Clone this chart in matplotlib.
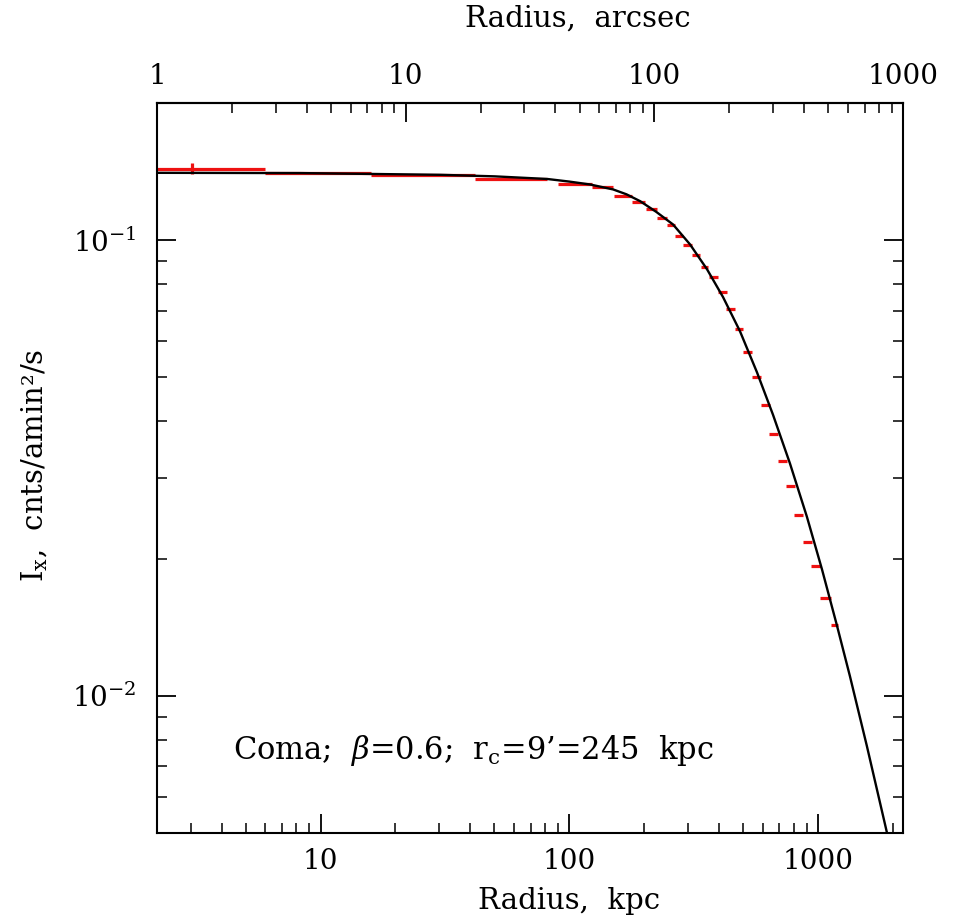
import numpy as np
import matplotlib
matplotlib.use('Agg')
import matplotlib.pyplot as plt
from matplotlib.ticker import LogLocator, NullFormatter, FixedLocator, FixedFormatter

plt.rcParams['font.family'] = ['DejaVu Serif']
plt.rcParams['mathtext.fontset'] = 'dejavuserif'

# data bins (kpc) and surface brightness
r_lo = [0.5, 6.0, 15.9, 41.9, 90.3, 123.7, 151.6, 179.1, 203.9, 225.6, 247.5, 266.6,
        287.0, 311.9, 338.9, 364.9, 396.6, 427.1, 464.2, 499.7, 543.2, 590.3, 635.7,
        690.9, 743.7, 801.1, 870.5, 937.3, 1018.6, 1127.6]
r_hi = [6.0, 15.9, 41.9, 81.6, 123.7, 150.2, 179.1, 202.0, 225.6, 247.5, 266.6, 287.0,
        311.9, 335.9, 361.6, 396.6, 431.1, 464.2, 499.7, 543.2, 590.3, 641.6, 690.9,
        750.6, 808.6, 870.5, 946.0, 1028.0, 1127.6, 1203.0]
r_mid = [3.03, 11.07, 25.8, 58.5, 105.7, 136.3, 164.8, 190.2, 214.5, 236.3, 256.9, 276.6,
         299.2, 323.7, 350.1, 380.4, 413.5, 445.2, 481.6, 521.0, 566.3, 615.4, 664.2,
         720.2, 775.8, 835.1, 907.4, 981.6, 1071.7, 1164.7]
sb = [0.1436, 0.1401, 0.1393, 0.1363, 0.1331, 0.1305, 0.1247, 0.1212, 0.1168, 0.1121,
      0.1077, 0.1020, 0.0977, 0.0927, 0.0874, 0.0831, 0.0769, 0.0705, 0.0639, 0.0569,
      0.0502, 0.0434, 0.0376, 0.0328, 0.0289, 0.0250, 0.0218, 0.0193, 0.0164, 0.0143]
sb_err = [0.004, 0.0007] + [0.0] * 28

# beta-model curve, points
model_r = [2.0, 8.31, 30.3, 50.1, 81.6, 100.0, 121.4, 150.2, 170.0, 192.8, 223.9, 261.6,
           306.1, 358.3, 415.5, 486.1, 568.9, 659.7, 772.0, 903.2, 1038.0, 1192.0,
           1345.0, 1573.0, 1858.0, 2000.0]
model_sb = [0.14053, 0.14034, 0.13912, 0.13804, 0.13622, 0.13444, 0.13248, 0.12920,
            0.12605, 0.12177, 0.11535, 0.10823, 0.09786, 0.08630, 0.07499, 0.06310,
            0.05128, 0.04140, 0.03236, 0.02472, 0.01897, 0.01429, 0.01105, 0.00777,
            0.00525, 0.00441]

KPC_PER_ARCSEC = 2.2

fig = plt.figure(figsize=(9.61, 9.21), dpi=100)
ax = fig.add_axes([0.1634, 0.0955, 0.7763, 0.7927])

xerr = [np.array(r_mid) - np.array(r_lo), np.array(r_hi) - np.array(r_mid)]
ax.errorbar(r_mid, sb, xerr=xerr, yerr=sb_err, fmt='none', ecolor='#ee1111',
            elinewidth=2.3, capsize=0, zorder=2)
ax.plot(model_r, model_sb, color='black', lw=1.7, zorder=3)

ax.set_xscale('log')
ax.set_yscale('log')
ax.set_xlim(2.2, 2200)
ax.set_ylim(0.005, 0.2)

for s in ax.spines.values():
    s.set_linewidth(1.5)

ax.xaxis.set_major_locator(FixedLocator([10, 100, 1000]))
ax.xaxis.set_major_formatter(FixedFormatter(['10', '100', '1000']))
ax.xaxis.set_minor_locator(LogLocator(base=10, subs=np.arange(2, 10)))
ax.xaxis.set_minor_formatter(NullFormatter())
ax.yaxis.set_minor_formatter(NullFormatter())
ax.tick_params(which='major', direction='in', length=14, width=1.3, labelsize=20,
               left=True, right=True, top=False, bottom=True)
ax.tick_params(axis='x', which='major', pad=11)
ax.tick_params(axis='y', which='major', pad=15)
ax.tick_params(which='minor', direction='in', length=7.5, width=1.1,
               left=True, right=True, top=False, bottom=True)

top = ax.secondary_xaxis('top', functions=(lambda x: x / KPC_PER_ARCSEC,
                                           lambda x: x * KPC_PER_ARCSEC))
top.xaxis.set_major_locator(FixedLocator([1, 10, 100, 1000]))
top.xaxis.set_major_formatter(FixedFormatter(['1', '10', '100', '1000']))
top.xaxis.set_minor_locator(LogLocator(base=10, subs=np.arange(2, 10)))
top.xaxis.set_minor_formatter(NullFormatter())
top.tick_params(which='major', direction='in', length=14, width=1.3, labelsize=20, pad=9)
top.tick_params(which='minor', direction='in', length=7.5, width=1.1)
top.spines['top'].set_linewidth(1.5)
top.set_xlabel('Radius,  arcsec', fontsize=21)
top.xaxis.set_label_coords(0.564, 1.115, transform=ax.transAxes)
top.xaxis.label.set_va('center')

ax.set_xlabel('Radius,  kpc', fontsize=21)
ax.xaxis.set_label_coords(0.552, -0.093)
ax.xaxis.label.set_va('center')
ax.set_ylabel('I$_{\\rm x}$,  cnts/amin²/s', fontsize=21)
ax.yaxis.set_label_coords(-0.1635, 0.503)
ax.yaxis.label.set_va('center')

ax.text(0.102, 0.113, 'Coma;  $\\beta$=0.6;  r$_{\\rm c}$=9\u2019=245  kpc',
        transform=ax.transAxes, fontsize=22, ha='left', va='center')

fig.savefig('out.png', dpi=100)
